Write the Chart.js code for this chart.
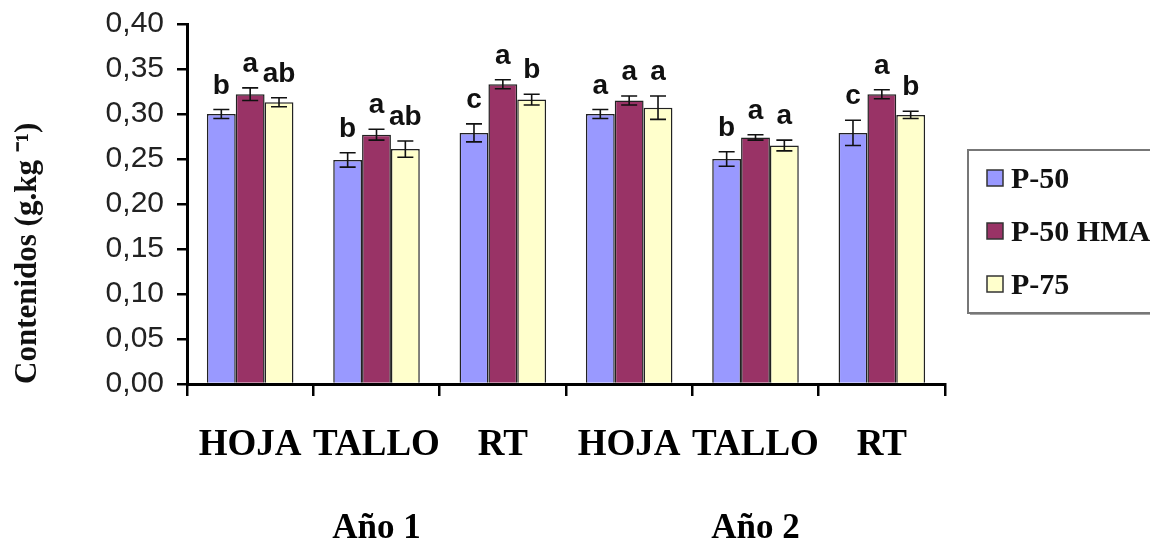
<!DOCTYPE html>
<html>
<head>
<meta charset="utf-8">
<script src="https://cdn.jsdelivr.net/npm/chart.js@4/dist/chart.umd.min.js"></script>
<style>
html,body{margin:0;padding:0;background:#fff;}
#wrap{width:1150px;height:551px;position:relative;}
</style>
</head>
<body>
<div id="wrap"><canvas id="c" width="1150" height="551"></canvas></div>
<script>
const categories = ['HOJA', 'TALLO', 'RT', 'HOJA', 'TALLO', 'RT'];
const years = ['Año 1', 'Año 2'];
const seriesNames = ['P-50', 'P-50 HMA', 'P-75'];
const p50 = [0.300, 0.249, 0.279, 0.300, 0.250, 0.279];
const p50hma = [0.322, 0.277, 0.333, 0.315, 0.274, 0.322];
const p75 = [0.313, 0.261, 0.316, 0.307, 0.265, 0.299];
const errP50 = [0.005, 0.008, 0.010, 0.005, 0.008, 0.014];
const errP50hma = [0.007, 0.006, 0.005, 0.005, 0.003, 0.005];
const errP75 = [0.005, 0.009, 0.006, 0.013, 0.006, 0.004];
const lettersP50 = ['b', 'b', 'c', 'a', 'b', 'c'];
const lettersP50hma = ['a', 'a', 'a', 'a', 'a', 'a'];
const lettersP75 = ['ab', 'ab', 'b', 'a', 'a', 'b'];
const yTicks = [0, 0.05, 0.10, 0.15, 0.20, 0.25, 0.30, 0.35, 0.40];
const yTitle = 'Contenidos (g.kg ⁻¹)';

const errs = [errP50, errP50hma, errP75];
const letters = [lettersP50, lettersP50hma, lettersP75];
const colors = ['#9999ff', '#993366', '#ffffcc'];

const errorBarPlugin = {
  id: 'errorBars',
  afterDatasetsDraw(chart) {
    const ctx = chart.ctx;
    const y = chart.scales.y;
    ctx.save();
    chart.data.datasets.forEach((ds, di) => {
      const meta = chart.getDatasetMeta(di);
      meta.data.forEach((bar, i) => {
        const v = ds.data[i];
        const e = errs[di][i];
        const yt = y.getPixelForValue(v + e);
        const yb = y.getPixelForValue(v - e);
        const x = bar.x;
        ctx.strokeStyle = '#111';
        ctx.lineWidth = 1.6;
        ctx.beginPath();
        ctx.moveTo(x, yt); ctx.lineTo(x, yb);
        ctx.moveTo(x - 8, yt); ctx.lineTo(x + 8, yt);
        ctx.moveTo(x - 8, yb); ctx.lineTo(x + 8, yb);
        ctx.stroke();
        ctx.fillStyle = '#111';
        ctx.font = 'bold 28px "Liberation Sans", Arial, sans-serif';
        ctx.textAlign = 'center';
        ctx.textBaseline = 'alphabetic';
        ctx.fillText(letters[di][i], x, yt - 16);
      });
    });
    ctx.restore();
  }
};

const legendPlugin = {
  id: 'boxLegend',
  afterDraw(chart) {
    const ctx = chart.ctx;
    ctx.save();
    ctx.fillStyle = 'rgba(0,0,0,0.35)';
    ctx.fillRect(970, 152, 200, 163);
    ctx.fillStyle = '#fff';
    ctx.fillRect(968, 150, 200, 163);
    ctx.strokeStyle = '#777';
    ctx.lineWidth = 2;
    ctx.strokeRect(968, 150, 200, 163);
    chart.data.datasets.forEach((ds, i) => {
      const cy = 178 + i * 53;
      ctx.fillStyle = ds.backgroundColor;
      ctx.fillRect(987, cy - 8, 16, 16);
      ctx.strokeStyle = '#333';
      ctx.lineWidth = 1.5;
      ctx.strokeRect(987, cy - 8, 16, 16);
      ctx.fillStyle = '#111';
      ctx.font = 'bold 30px "Liberation Serif", "Times New Roman", serif';
      ctx.textAlign = 'left';
      ctx.textBaseline = 'middle';
      ctx.fillText(ds.label, 1011, cy + 2);
    });
    ctx.restore();
  }
};

const seriesData = [p50, p50hma, p75];
new Chart(document.getElementById('c'), {
  type: 'bar',
  data: {
    labels: categories,
    datasets: seriesNames.map((n, i) => ({
      label: n,
      data: seriesData[i],
      backgroundColor: colors[i],
      borderColor: '#222',
      borderWidth: 1.5,
      categoryPercentage: 0.685,
      barPercentage: 1.0,
      xAxisID: 'x'
    }))
  },
  options: {
    responsive: false,
    animation: false,
    layout: { padding: { top: 24, right: 205, left: 0, bottom: 0 } },
    plugins: { legend: { display: false }, tooltip: { enabled: false } },
    scales: {
      y: {
        min: 0, max: 0.40,
        afterFit(s) { s.width = 187; s.paddingTop = 0; s.paddingBottom = 0; },
        afterBuildTicks(s) { s.ticks = yTicks.map(v => ({ value: v })); },
        ticks: {
          padding: 13,
          color: '#222',
          font: { family: '"Liberation Sans", Arial, sans-serif', size: 30 },
          callback: v => Number(v).toFixed(2).replace('.', ',')
        },
        grid: { display: true, drawOnChartArea: false, drawTicks: true, tickLength: 10, color: '#000', lineWidth: 2.5 },
        border: { display: true, color: '#000', width: 3 },
        title: {
          display: true, text: yTitle, color: '#111', align: 'start',
          font: { family: '"Liberation Serif", "Times New Roman", serif', size: 31, weight: 'bold' },
          padding: { top: 9, bottom: 10 }
        }
      },
      x: {
        afterFit(s) { s.height = 85; },
        ticks: {
          padding: 27, color: '#000', autoSkip: false, maxRotation: 0, minRotation: 0,
          font: { family: '"Liberation Serif", "Times New Roman", serif', size: 37, weight: 'bold' }
        },
        grid: { display: true, offset: true, drawOnChartArea: false, drawTicks: true, tickLength: 12, color: '#000', lineWidth: 2.5 },
        border: { display: true, color: '#000', width: 3 }
      },
      x2: {
        type: 'category',
        labels: years,
        position: 'bottom',
        offset: true,
        afterFit(s) { s.height = 82; },
        ticks: {
          padding: 39, color: '#000', autoSkip: false, maxRotation: 0, minRotation: 0,
          font: { family: '"Liberation Serif", "Times New Roman", serif', size: 35, weight: 'bold' }
        },
        grid: { display: false, drawTicks: false },
        border: { display: false }
      }
    }
  },
  plugins: [errorBarPlugin, legendPlugin]
});
</script>
</body>
</html>
